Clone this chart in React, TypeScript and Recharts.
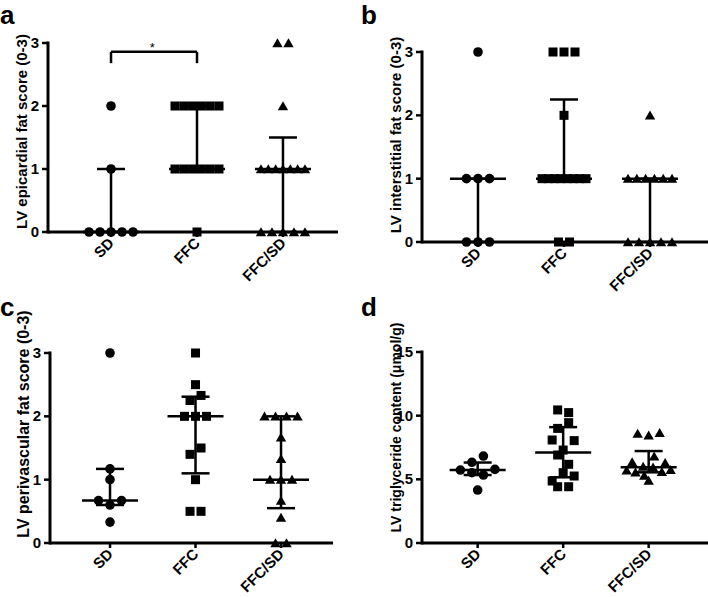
import { ScatterChart, Scatter, XAxis, YAxis, ErrorBar, ReferenceLine, ReferenceDot } from "recharts";

const FONT = '"Liberation Sans", Arial, Helvetica, sans-serif';

const groups = ["SD", "FFC", "FFC/SD"];

// a: epicardial fat score
const epiSD = [2, 1, 0, 0, 0, 0, 0];
const epiFFC = [2, 2, 2, 2, 2, 2, 1, 1, 1, 1, 1, 1, 0];
const epiFFCSD = [3, 3, 2, 1, 1, 1, 1, 1, 1, 1, 0, 0, 0, 0, 0];
const epiMedian = [0, 1, 1];
const epiQ1 = [0, 1, 0];
const epiQ3 = [1, 2, 1.5];

// b: interstitial fat score
const intSD = [3, 1, 1, 1, 0, 0, 0];
const intFFC = [3, 3, 3, 2, 1, 1, 1, 1, 1, 1, 1, 1, 0, 0];
const intFFCSD = [2, 1, 1, 1, 1, 1, 1, 0, 0, 0, 0, 0];
const intMedian = [1, 1, 1];
const intQ1 = [0, 1, 0];
const intQ3 = [1, 2.25, 1];

// c: perivascular fat score
const periSD = [3, 1.0, 1.17, 0.67, 0.6, 0.67, 0.33];
const periFFC = [3, 2.5, 2.25, 2.33, 2, 2, 2, 1.4, 1.5, 1, 0.5, 0.5];
const periFFCSD = [2, 2, 2, 2, 1.67, 1.33, 1, 1, 1, 0.67, 0.4, 0, 0];
const periMedian = [0.67, 2, 1];
const periQ1 = [0.6, 1.1, 0.55];
const periQ3 = [1.17, 2.31, 2];

// d: triglyceride content
const tgSD = [6.34, 6.83, 5.73, 5.52, 5.34, 5.78, 4.16];
const tgFFC = [10.45, 10.24, 9.0, 9.45, 8.09, 7.3, 8.04, 6.91, 6.18, 4.87, 5.52, 5.26, 4.42, 4.42];
const tgFFCSD = [8.6, 8.45, 8.65, 6.35, 6.0, 6.8, 6.3, 5.7, 5.55, 5.3, 5.95, 5.6, 5.75, 4.9];
const tgMedian = [5.73, 7.1, 5.95];
const tgQ1 = [5.34, 5.16, 5.55];
const tgQ3 = [6.32, 9.1, 7.22];

const scoreTicks = [0, 1, 2, 3];
const tgTicks = [0, 5, 10, 15];

// lay points of similar value side by side, like a scatter dot plot
function spread(values, group, pxX, pxY, step) {
  const order = values.map((v, i) => ({ v, i })).sort((a, b) => b.v - a.v || a.i - b.i);
  const rows = [];
  for (const p of order) {
    const row = rows[rows.length - 1];
    if (row && (row[0].v - p.v) * pxY <= 10.5) row.push(p);
    else rows.push([p]);
  }
  const out = [];
  for (const row of rows) {
    row.sort((a, b) => a.i - b.i);
    const k = row.length;
    const s = k > 1 ? Math.min(step, 44 / (k - 1)) : 0;
    row.forEach((p, j) => out.push({ x: group + ((j - (k - 1) / 2) * s) / pxX, y: p.v }));
  }
  return out;
}

const Dot = ({ cx, cy }: any) => <circle cx={cx} cy={cy} r={4.8} fill="#000" />;
const Sq = ({ cx, cy }: any) => <rect x={cx - 4.5} y={cy - 4.5} width={9} height={9} fill="#000" />;
const Tri = ({ cx, cy }: any) => (
  <path d={`M${cx},${cy - 4.8} L${cx + 5.2},${cy + 4.2} L${cx - 5.2},${cy + 4.2} Z`} fill="#000" />
);
const MedianLine = ({ cx, cy }: any) => (
  <line x1={cx - 28} x2={cx + 28} y1={cy} y2={cy} stroke="#000" strokeWidth={2.5} />
);

const XTick = ({ x, y, payload }: any) => (
  <g transform={`translate(${x + 4},${y + 5}) rotate(-45)`}>
    <text textAnchor="end" fontFamily={FONT} fontWeight="bold" fontSize={15} fill="#000">
      {groups[payload.value - 1]}
    </text>
  </g>
);

const YTick = ({ x, y, payload }: any) => (
  <text x={x} y={y} dy={5} textAnchor="end" fontFamily={FONT} fontWeight="bold" fontSize={15} fill="#000">
    {payload.value}
  </text>
);

const Panel = ({ cfg, series, median, q1, q3, yMax, yTicks, bracket }: any) => {
  const { left, top, width, height, plot, xDomain, ylabel, labelSize, labelCy } = cfg;
  const pxX = (plot.r - plot.l) / (xDomain[1] - xDomain[0]);
  const pxY = (plot.b - plot.t) / yMax;
  const shapes = [Dot, Sq, Tri];
  const steps = [11.5, 11, 11];
  const summary = groups.map((g, i) => ({ x: i + 1, y: median[i], err: [median[i] - q1[i], q3[i] - median[i]] }));
  const lx = plot.l - 21;
  return (
    <div style={{ position: "absolute", left, top }}>
      <ScatterChart
        width={width}
        height={height}
        margin={{ top: plot.t, right: width - plot.r, bottom: 0, left: 0 }}
      >
        <XAxis
          type="number"
          dataKey="x"
          domain={xDomain}
          ticks={[1, 2, 3]}
          interval={0}
          allowDataOverflow
          height={height - plot.b}
          tick={<XTick />}
          tickSize={5}
          axisLine={{ stroke: "#000", strokeWidth: 3 }}
          tickLine={{ stroke: "#000", strokeWidth: 2.5 }}
        />
        <YAxis
          type="number"
          dataKey="y"
          domain={[0, yMax]}
          ticks={yTicks}
          interval={0}
          width={plot.l}
          tick={<YTick />}
          tickSize={6}
          tickMargin={3}
          axisLine={{ stroke: "#000", strokeWidth: 3, strokeLinecap: "square" }}
          tickLine={{ stroke: "#000", strokeWidth: 2.5 }}
          label={{
            content: () => (
              <text
                x={lx}
                y={labelCy}
                transform={`rotate(-90 ${lx} ${labelCy})`}
                textAnchor="middle"
                fontFamily={FONT}
                fontWeight="bold"
                fontSize={labelSize}
                fill="#000"
              >
                {ylabel}
              </text>
            ),
          }}
        />
        {series.map((vals, i) => (
          <Scatter
            key={groups[i]}
            data={spread(vals, i + 1, pxX, pxY, steps[i])}
            shape={shapes[i]}
            isAnimationActive={false}
          />
        ))}
        <Scatter data={summary} shape={MedianLine} isAnimationActive={false}>
          <ErrorBar dataKey="err" direction="y" width={14} stroke="#000" strokeWidth={2.5} />
        </Scatter>
        {bracket && (
          <ReferenceLine
            segment={[{ x: 1, y: 2.68 }, { x: 1, y: 2.86 }]}
            stroke="#000"
            strokeWidth={2.5}
          />
        )}
        {bracket && (
          <ReferenceLine
            segment={[{ x: 1, y: 2.86 }, { x: 2, y: 2.86 }]}
            stroke="#000"
            strokeWidth={2.5}
          />
        )}
        {bracket && (
          <ReferenceLine
            segment={[{ x: 2, y: 2.68 }, { x: 2, y: 2.86 }]}
            stroke="#000"
            strokeWidth={2.5}
          />
        )}
        {bracket && (
          <ReferenceDot
            x={1.48}
            y={3}
            r={0}
            shape={({ cx, cy }: any) => (
              <text x={cx} y={cy + 8.5} textAnchor="middle" fontFamily={FONT} fontSize={13} fill="#000">
                *
              </text>
            )}
          />
        )}
      </ScatterChart>
    </div>
  );
};

const Letter = ({ x, y, children }: any) => (
  <svg style={{ position: "absolute", left: 0, top: 0, overflow: "visible" }} width={1} height={1}>
    <text x={x} y={y} fontFamily={FONT} fontWeight="bold" fontSize={26} fill="#000">
      {children}
    </text>
  </svg>
);

const cfgA = {
  left: 0, top: 0, width: 340, height: 300,
  plot: { l: 48, t: 43, r: 338, b: 232 },
  xDomain: [0.267, 3.64],
  ylabel: "LV epicardial fat score (0-3)", labelSize: 15, labelCy: 131.5,
};
const cfgB = {
  left: 355, top: 0, width: 353, height: 300,
  plot: { l: 67, t: 52, r: 353, b: 242 },
  xDomain: [0.349, 3.674],
  ylabel: "LV interstitial fat score (0-3)", labelSize: 15, labelCy: 135,
};
const cfgC = {
  left: 0, top: 300, width: 340, height: 297,
  plot: { l: 50, t: 53, r: 333, b: 243 },
  xDomain: [0.298, 3.608],
  ylabel: "LV perivascular fat score (0-3)", labelSize: 16, labelCy: 124,
};
const cfgD = {
  left: 355, top: 300, width: 353, height: 297,
  plot: { l: 67, t: 52, r: 353, b: 243 },
  xDomain: [0.349, 3.694],
  ylabel: "LV triglyceride content (μmol/g)", labelSize: 14, labelCy: 127.5,
};

export default function App() {
  return (
    <div style={{ position: "absolute", left: 0, top: 0, width: 708, height: 597, background: "#fff", overflow: "hidden" }}>
      <Panel cfg={cfgA} series={[epiSD, epiFFC, epiFFCSD]} median={epiMedian} q1={epiQ1} q3={epiQ3} yMax={3} yTicks={scoreTicks} bracket />
      <Panel cfg={cfgB} series={[intSD, intFFC, intFFCSD]} median={intMedian} q1={intQ1} q3={intQ3} yMax={3} yTicks={scoreTicks} />
      <Panel cfg={cfgC} series={[periSD, periFFC, periFFCSD]} median={periMedian} q1={periQ1} q3={periQ3} yMax={3} yTicks={scoreTicks} />
      <Panel cfg={cfgD} series={[tgSD, tgFFC, tgFFCSD]} median={tgMedian} q1={tgQ1} q3={tgQ3} yMax={15} yTicks={tgTicks} />
      <Letter x={0} y={24}>a</Letter>
      <Letter x={361} y={24}>b</Letter>
      <Letter x={0} y={316}>c</Letter>
      <Letter x={361} y={316}>d</Letter>
    </div>
  );
}
